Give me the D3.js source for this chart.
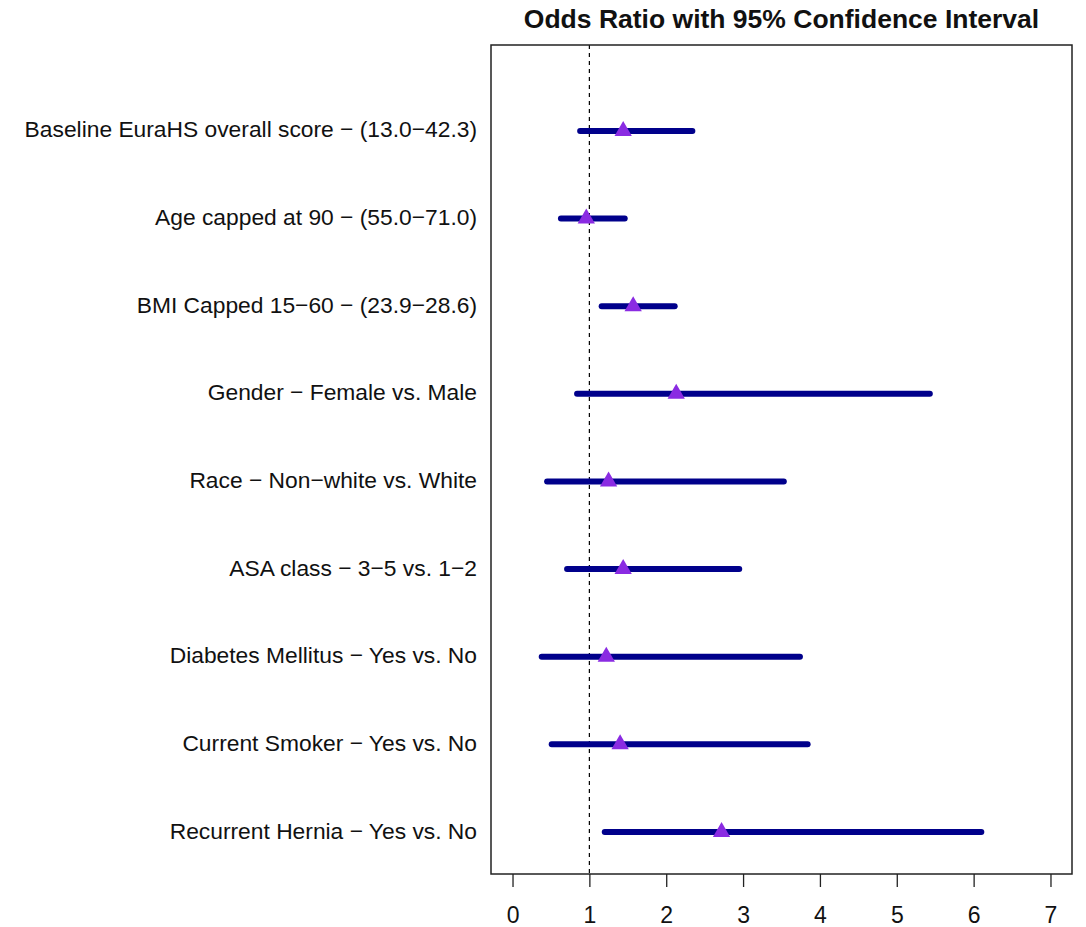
<!DOCTYPE html>
<html>
<head>
<meta charset="utf-8">
<script src="https://cdn.jsdelivr.net/npm/d3@7"></script>
<style>
  html, body { margin: 0; padding: 0; background: #fff; }
  svg { display: block; font-family: "Liberation Sans", Arial, sans-serif; }
</style>
</head>
<body>
<svg id="chart" width="1086" height="927"></svg>
<script>
// Forest plot: odds ratios with 95% confidence intervals
const labels = [
  "Baseline EuraHS overall score \u2212 (13.0\u221242.3)",
  "Age capped at 90 \u2212 (55.0\u221271.0)",
  "BMI Capped 15\u221260 \u2212 (23.9\u221228.6)",
  "Gender \u2212 Female vs. Male",
  "Race \u2212 Non\u2212white vs. White",
  "ASA class \u2212 3\u22125 vs. 1\u22122",
  "Diabetes Mellitus \u2212 Yes vs. No",
  "Current Smoker \u2212 Yes vs. No",
  "Recurrent Hernia \u2212 Yes vs. No"
];
const oddsRatio = [1.44, 0.96, 1.57, 2.13, 1.25, 1.44, 1.22, 1.40, 2.72];
const ciLower   = [0.88, 0.63, 1.16, 0.84, 0.45, 0.71, 0.38, 0.51, 1.20];
const ciUpper   = [2.34, 1.46, 2.11, 5.43, 3.53, 2.95, 3.74, 3.84, 6.10];
const xTicks = [0, 1, 2, 3, 4, 5, 6, 7];
const referenceLine = 1;
const title = "Odds Ratio with 95% Confidence Interval";

const svg = d3.select("#chart");
const box = { left: 491, right: 1072, top: 45, bottom: 874 };

const x = d3.scaleLinear().domain([-0.28, 7.28]).range([box.left, box.right]);
// rows numbered from the bottom (1) to the top (9)
const n = labels.length;
const y = d3.scaleLinear().domain([0.52, 9.98]).range([box.bottom, box.top]);
const rowY = i => y(n - i);

// title
svg.append("text")
  .attr("x", (box.left + box.right) / 2)
  .attr("y", 28)
  .attr("text-anchor", "middle")
  .attr("font-size", 26.5)
  .attr("font-weight", "bold")
  .attr("fill", "#111")
  .text(title);

// x axis
const axis = svg.append("g")
  .attr("transform", `translate(0,${box.bottom})`)
  .call(d3.axisBottom(x).tickValues(xTicks).tickFormat(d3.format("d")).tickSize(13));
axis.select(".domain").remove();
axis.selectAll(".tick line").attr("stroke", "#222").attr("stroke-width", 1.3);
axis.selectAll(".tick text")
  .attr("y", 49)
  .attr("dy", 0)
  .attr("font-size", 23)
  .attr("fill", "#111")
  .attr("font-family", "Liberation Sans, Arial, sans-serif");

// reference line at OR = 1
svg.append("line")
  .attr("x1", x(referenceLine)).attr("x2", x(referenceLine))
  .attr("y1", box.top).attr("y2", box.bottom)
  .attr("stroke", "#000").attr("stroke-width", 1.2)
  .attr("stroke-dasharray", "4,4");

// confidence intervals
svg.append("g").selectAll("line")
  .data(labels)
  .join("line")
  .attr("x1", (d, i) => x(ciLower[i]))
  .attr("x2", (d, i) => x(ciUpper[i]))
  .attr("y1", (d, i) => rowY(i))
  .attr("y2", (d, i) => rowY(i))
  .attr("stroke", "#00008B")
  .attr("stroke-width", 6)
  .attr("stroke-linecap", "round");

// point estimates
const tri = d3.symbol().type(d3.symbolTriangle).size(130);
svg.append("g").selectAll("path")
  .data(labels)
  .join("path")
  .attr("d", tri)
  .attr("transform", (d, i) => `translate(${x(oddsRatio[i])},${rowY(i)})`)
  .attr("fill", "#8A2BE2");

// row labels
svg.append("g").selectAll("text")
  .data(labels)
  .join("text")
  .attr("x", 477)
  .attr("y", (d, i) => rowY(i))
  .attr("dy", "0.29em")
  .attr("text-anchor", "end")
  .attr("font-size", 22.8)
  .attr("fill", "#111")
  .text(d => d);

// plot frame
svg.append("rect")
  .attr("x", box.left).attr("y", box.top)
  .attr("width", box.right - box.left).attr("height", box.bottom - box.top)
  .attr("fill", "none").attr("stroke", "#222").attr("stroke-width", 1.5);
</script>
</body>
</html>
